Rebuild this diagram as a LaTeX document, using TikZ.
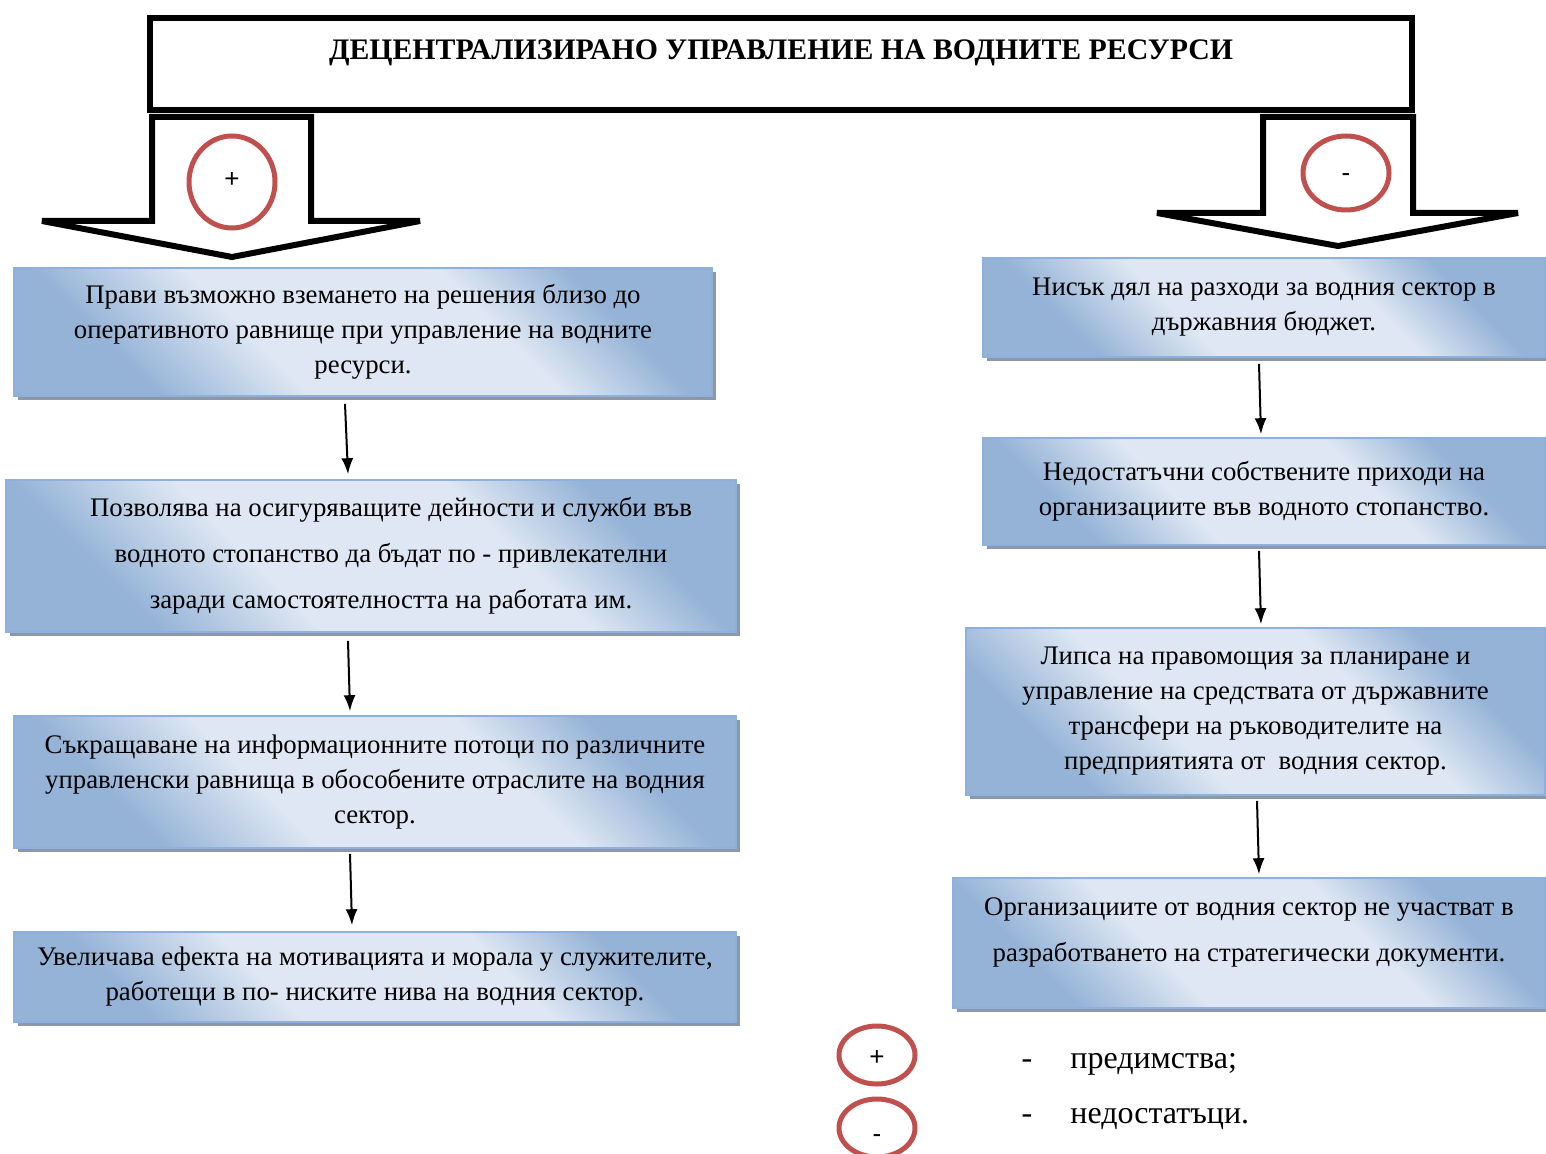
\documentclass[tikz,border=0pt]{standalone}
\usepackage{fontspec}
\setmainfont{Liberation Serif}
\newfontfamily\signfont{Liberation Sans}
\usetikzlibrary{arrows.meta,shadows}
\definecolor{bdark}{RGB}{149,179,215}
\definecolor{blight}{RGB}{222,231,243}
\definecolor{bline}{RGB}{141,176,220}
\definecolor{shadowgray}{RGB}{140,152,168}
\definecolor{signred}{RGB}{192,80,77}
\pgfdeclarehorizontalshading{boxblue}{100bp}{color(0bp)=(bdark); color(27bp)=(bdark); color(40bp)=(blight); color(62bp)=(blight); color(73bp)=(bdark); color(100bp)=(bdark)}
\begin{document}
\begin{tikzpicture}[x=0.5pt,y=-0.5pt,
  infobox/.style={draw=bline, line width=0.8pt, shading=boxblue, shading angle=45,
    drop shadow={shadow xshift=2pt, shadow yshift=-2pt, fill=shadowgray, opacity=1},
    inner sep=0pt, align=center, font=\fontsize{13.4}{17.5}\selectfont},
  widebox/.style={infobox, font=\fontsize{13.4}{23}\selectfont},
  flowarr/.style={-{Latex[length=8pt,width=6pt]}, line width=1pt},
  blockarr/.style={line width=3pt, line join=miter},
  signtext/.style={font=\signfont\fontsize{13}{13}\selectfont},
  legtext/.style={anchor=base west, inner sep=0pt, font=\fontsize{16}{16}\selectfont}]
\useasboundingbox (0,0) rectangle (1546,1154);

% title
\node (title) [draw, line width=3pt, minimum width=631pt, inner sep=0pt,
  text height=21pt, text depth=25pt, font=\bfseries\fontsize{14.9}{14.9}\selectfont]
  at (781,64) {ДЕЦЕНТРАЛИЗИРАНО УПРАВЛЕНИЕ НА ВОДНИТЕ РЕСУРСИ};

% block arrows
\draw [blockarr] (152,117) -- (152,221) -- (42,221) -- (232,257) -- (420,221)
  -- (311,221) -- (311,117) -- cycle;
\draw [blockarr] (1263,117) -- (1263,213) -- (1157,213) -- (1338,246) -- (1518,213)
  -- (1413,213) -- (1413,117) -- cycle;
\draw [signred, line width=2.5pt] (232,182) ellipse [x radius=43, y radius=46];
\node (plus) [signtext] at (232,180) {+};
\draw [signred, line width=2.5pt] (1346,173) ellipse [x radius=43, y radius=37];
\node (minus) [signtext, anchor=base] at (1346,182) {-};

% advantages
\node (l1) [infobox, minimum width=349pt, minimum height=64pt] at (363,332)
  {Прави възможно вземането на решения близо до\\
   оперативното равнище при управление на водните\\ ресурси.};
\node (l2) [widebox, minimum width=365pt, minimum height=76pt] at (371,556)
  {\hspace*{20pt}Позволява на осигуряващите дейности и служби във\\
   \hspace*{20pt}водното стопанство да бъдат по - привлекателни\\
   \hspace*{20pt}заради самостоятелността на работата им.};
\node (l3) [infobox, minimum width=361pt, minimum height=66pt] at (375,782)
  {Съкращаване на информационните потоци по различните\\
   управленски равнища в обособените отраслите на водния\\ сектор.};
\node (l4) [infobox, minimum width=361pt, minimum height=45pt] at (375,977)
  {Увеличава ефекта на мотивацията и морала у служителите,\\
   работещи в по- ниските нива на водния сектор.};

% disadvantages
\node (r1) [infobox, minimum width=281pt, minimum height=49.5pt] at (1264,307.5)
  {Нисък дял на разходи за водния сектор в\\ държавния бюджет.};
\node (r2) [infobox, minimum width=281pt, minimum height=53.5pt] at (1264,491.5)
  {Недостатъчни собствените приходи на\\ организациите във водното стопанство.};
\node (r3) [infobox, minimum width=289.5pt, minimum height=83.5pt] at (1255.5,711.5)
  {Липса на правомощия за планиране и\\ управление на средствата от държавните\\
   трансфери на ръководителите на\\ предприятията от\ \ водния сектор.};
\node (r4) [widebox, minimum width=296pt, minimum height=65pt] at (1249,943)
  {Организациите от водния сектор не участват в\\
   разработването на стратегически документи.\\[-10pt]\mbox{}};

% connectors
\draw [flowarr] ([xshift=-9pt,yshift=-3.5pt]l1.south) -- ([xshift=-11.5pt,yshift=2.5pt]l2.north);
\draw [flowarr] ([xshift=-11.5pt,yshift=-4pt]l2.south) -- ([xshift=-12.5pt,yshift=2pt]l3.north);
\draw [flowarr] ([xshift=-12.5pt,yshift=-2.5pt]l3.south) -- ([xshift=-11.5pt,yshift=3pt]l4.north);
\draw [flowarr] ([xshift=-2.5pt,yshift=-3pt]r1.south) -- ([xshift=-1.5pt,yshift=1.5pt]r2.north);
\draw [flowarr] ([xshift=-2.5pt,yshift=-2.5pt]r2.south) -- ([xshift=2.75pt,yshift=1.5pt]r3.north);
\draw [flowarr] ([xshift=0.75pt,yshift=-2.5pt]r3.south) -- ([xshift=5pt,yshift=1.5pt]r4.north);

% legend
\draw [signred, line width=2.5pt] (877,1055) ellipse [x radius=38, y radius=29];
\node (legplus) [signtext] at (877,1058) {+};
\draw [signred, line width=2.5pt] (877,1128) ellipse [x radius=38, y radius=29];
\node (legminus) [signtext, anchor=base] at (877,1142) {-};
\node (dashplus) [legtext, anchor=base] at (1027,1068) {-};
\node (dashminus) [legtext, anchor=base] at (1027,1123) {-};
\node (legadv) [legtext] at (1070,1068) {предимства;};
\node (legdis) [legtext] at (1070,1123) {недостатъци.};
\end{tikzpicture}
\end{document}
